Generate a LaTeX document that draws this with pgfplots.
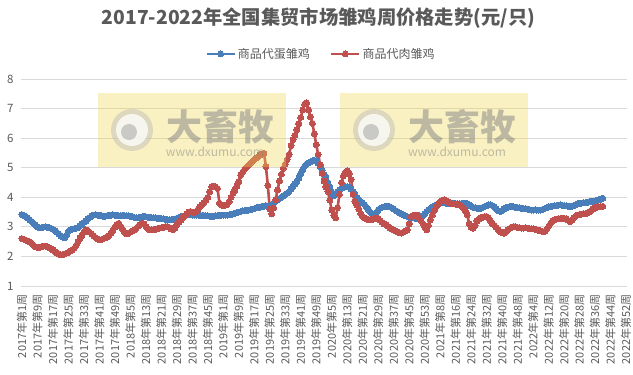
\documentclass[border=0pt]{standalone}
\usepackage{fontspec}
\setmainfont{Noto Sans CJK SC}
\usepackage{pgfplots}
\pgfplotsset{compat=1.18}
\usepackage{pgfplotstable}
\definecolor{egg}{RGB}{74,126,187}
\definecolor{meat}{RGB}{192,80,77}
\definecolor{txt}{RGB}{89,89,89}
\definecolor{gridc}{RGB}{217,217,217}
\definecolor{wmy}{RGB}{240,215,80}

\pgfplotstableread{
i b r
0 3.41 2.60
1 3.38 2.58
2 3.35 2.55
3 3.30 2.52
4 3.24 2.50
5 3.18 2.45
6 3.12 2.38
7 3.06 2.32
8 3.00 2.30
9 2.97 2.31
10 2.97 2.33
11 2.99 2.35
12 3.00 2.35
13 2.99 2.33
14 2.97 2.30
15 2.95 2.26
16 2.92 2.22
17 2.87 2.17
18 2.82 2.12
19 2.76 2.08
20 2.70 2.06
21 2.66 2.06
22 2.63 2.08
23 2.72 2.11
24 2.85 2.14
25 2.90 2.18
26 2.92 2.22
27 2.93 2.28
28 2.95 2.38
29 2.98 2.50
30 3.04 2.62
31 3.10 2.72
32 3.15 2.82
33 3.20 2.90
34 3.27 2.88
35 3.32 2.82
36 3.37 2.76
37 3.40 2.70
38 3.41 2.64
39 3.40 2.59
40 3.39 2.56
41 3.37 2.57
42 3.36 2.60
43 3.36 2.63
44 3.37 2.66
45 3.39 2.70
46 3.40 2.78
47 3.41 2.88
48 3.40 2.98
49 3.38 3.07
50 3.37 3.12
51 3.38 3.02
52 3.39 2.92
53 3.38 2.82
54 3.37 2.76
55 3.37 2.78
56 3.36 2.82
57 3.34 2.86
58 3.32 2.90
59 3.31 2.95
60 3.30 3.02
61 3.32 3.08
62 3.34 3.12
63 3.35 3.10
64 3.34 3.02
65 3.33 2.94
66 3.32 2.90
67 3.31 2.90
68 3.30 2.91
69 3.30 2.92
70 3.29 2.94
71 3.29 2.96
72 3.28 2.97
73 3.27 2.98
74 3.26 3.00
75 3.25 3.01
76 3.24 2.98
77 3.24 2.93
78 3.24 2.90
79 3.26 2.96
80 3.29 3.07
81 3.32 3.16
82 3.34 3.22
83 3.36 3.30
84 3.38 3.38
85 3.40 3.44
86 3.41 3.50
87 3.41 3.52
88 3.40 3.50
89 3.40 3.48
90 3.40 3.52
91 3.40 3.60
92 3.39 3.69
93 3.38 3.75
94 3.38 3.82
95 3.37 3.90
96 3.37 4.00
97 3.36 4.18
98 3.36 4.36
99 3.36 4.38
100 3.37 4.35
101 3.38 4.30
102 3.39 3.80
103 3.40 3.74
104 3.40 3.72
105 3.40 3.73
106 3.40 3.76
107 3.41 3.85
108 3.42 4.00
109 3.44 4.14
110 3.46 4.25
111 3.48 4.38
112 3.50 4.52
113 3.52 4.75
114 3.54 4.85
115 3.55 4.95
116 3.56 5.02
117 3.57 5.08
118 3.58 5.15
119 3.60 5.22
120 3.62 5.28
121 3.64 5.33
122 3.66 5.38
123 3.67 5.43
124 3.69 5.46
125 3.70 5.49
126 3.72 5.04
127 3.70 4.40
128 3.72 3.60
129 3.75 3.44
130 3.80 3.65
131 3.86 3.91
132 3.91 4.25
133 3.96 4.55
134 4.00 4.78
135 4.05 4.98
136 4.10 5.12
137 4.14 5.28
138 4.20 5.45
139 4.28 5.75
140 4.36 5.95
141 4.45 6.10
142 4.53 6.28
143 4.65 6.48
144 4.80 6.70
145 4.93 6.95
146 5.05 7.15
147 5.12 7.20
148 5.17 6.95
149 5.20 6.72
150 5.23 6.50
151 5.25 6.15
152 5.24 5.78
153 5.15 5.45
154 5.03 5.10
155 4.90 4.81
156 4.77 4.55
157 4.65 4.35
158 4.50 4.20
159 4.35 3.90
160 4.18 3.57
161 4.05 3.40
162 4.10 3.30
163 4.19 3.65
164 4.25 4.10
165 4.30 4.50
166 4.33 4.72
167 4.35 4.85
168 4.36 4.90
169 4.35 4.80
170 4.28 4.60
171 4.18 4.10
172 4.08 3.85
173 3.98 3.74
174 3.91 3.60
175 3.86 3.45
176 3.81 3.35
177 3.75 3.30
178 3.66 3.26
179 3.57 3.25
180 3.49 3.24
181 3.43 3.25
182 3.40 3.27
183 3.48 3.29
184 3.57 3.29
185 3.63 3.22
186 3.66 3.15
187 3.68 3.10
188 3.69 3.07
189 3.69 3.02
190 3.68 2.96
191 3.65 2.92
192 3.60 2.90
193 3.55 2.86
194 3.52 2.82
195 3.48 2.80
196 3.44 2.79
197 3.40 2.82
198 3.37 2.86
199 3.35 2.90
200 3.33 3.10
201 3.32 3.35
202 3.30 3.38
203 3.29 3.40
204 3.29 3.40
205 3.30 3.32
206 3.33 3.22
207 3.38 3.12
208 3.45 3.00
209 3.52 2.90
210 3.58 3.05
211 3.63 3.24
212 3.67 3.40
213 3.71 3.55
214 3.75 3.69
215 3.78 3.78
216 3.80 3.85
217 3.81 3.89
218 3.81 3.91
219 3.80 3.88
220 3.80 3.84
221 3.80 3.80
222 3.80 3.79
223 3.80 3.78
224 3.79 3.77
225 3.78 3.76
226 3.78 3.74
227 3.79 3.70
228 3.80 3.64
229 3.80 3.55
230 3.78 3.40
231 3.74 3.10
232 3.70 2.98
233 3.66 2.95
234 3.64 3.05
235 3.63 3.20
236 3.62 3.26
237 3.63 3.30
238 3.66 3.33
239 3.69 3.35
240 3.72 3.35
241 3.74 3.30
242 3.74 3.20
243 3.72 3.10
244 3.67 3.05
245 3.60 2.98
246 3.55 2.90
247 3.52 2.84
248 3.55 2.80
249 3.60 2.79
250 3.64 2.84
251 3.67 2.90
252 3.69 2.95
253 3.69 2.99
254 3.68 3.01
255 3.66 3.00
256 3.65 2.98
257 3.64 2.97
258 3.63 2.96
259 3.62 2.96
260 3.61 2.97
261 3.60 2.96
262 3.58 2.94
263 3.57 2.93
264 3.57 2.93
265 3.58 2.92
266 3.57 2.90
267 3.57 2.88
268 3.57 2.86
269 3.59 2.84
270 3.62 2.85
271 3.65 2.92
272 3.68 3.02
273 3.69 3.12
274 3.70 3.20
275 3.71 3.24
276 3.72 3.26
277 3.73 3.27
278 3.74 3.28
279 3.73 3.29
280 3.72 3.29
281 3.71 3.27
282 3.70 3.22
283 3.69 3.18
284 3.70 3.22
285 3.72 3.30
286 3.75 3.36
287 3.78 3.40
288 3.80 3.42
289 3.80 3.43
290 3.81 3.44
291 3.82 3.45
292 3.83 3.46
293 3.85 3.50
294 3.86 3.55
295 3.87 3.61
296 3.88 3.65
297 3.90 3.67
298 3.92 3.68
299 3.94 3.68
300 3.97 3.69
}\data

\begin{document}
\begin{tikzpicture}[x=1pt,y=1pt]
\path[use as bounding box] (0,0) rectangle (633,375);
\node[font=\bfseries\fontsize{19.3}{21}\selectfont, text=txt] at (318.5,357) {2017-2022年全国集贸市场雏鸡周价格走势(元/只)};
\begin{axis}[
  at={(21pt,89pt)}, anchor=south west, scale only axis,
  width=606pt, height=207pt,
  xmin=-0.5, xmax=312.5, ymin=1, ymax=8,
  axis line style={draw=none},
  ymajorgrids, grid style={gridc, line width=0.8pt},
  ytick={1,2,3,4,5,6,7,8},
  xtick={0,8,...,312},
  xticklabels={2017年第1周,2017年第9周,2017年第17周,2017年第25周,2017年第33周,2017年第41周,2017年第49周,2018年第5周,2018年第13周,2018年第21周,2018年第29周,2018年第37周,2018年第45周,2019年第1周,2019年第9周,2019年第17周,2019年第25周,2019年第33周,2019年第41周,2019年第49周,2020年第5周,2020年第13周,2020年第21周,2020年第29周,2020年第37周,2020年第45周,2020年第53周,2021年第8周,2021年第16周,2021年第24周,2021年第32周,2021年第40周,2021年第48周,2022年第4周,2022年第12周,2022年第20周,2022年第28周,2022年第36周,2022年第44周,2022年第52周},
  major tick length=0pt,
  tick label style={text=txt},
  yticklabel style={font=\fontsize{11.5}{12}\selectfont},
  yticklabel shift=4pt,
  xticklabel style={font=\fontsize{11}{11}\selectfont, rotate=90, anchor=east},
  xticklabel shift=5pt,
  /pgf/number format/assume math mode=true,
  legend columns=2,
  legend style={at={(0.495,1.121)}, anchor=center, draw=none, fill=none,
    font=\fontsize{12}{14}\selectfont, text=txt,
    /tikz/every even column/.append style={column sep=18pt}},
  legend image code/.code={\draw[#1,mark repeat=2,mark phase=2] plot coordinates {(0pt,0pt)(14pt,0pt)(28pt,0pt)};},
]
\addplot[egg, line width=2.6pt, mark=*, mark size=3pt, mark options={solid, fill=egg, draw=egg, line width=0pt}] table[x=i,y=b]{\data};
\addlegendentry{商品代蛋雏鸡}
\addplot[meat, line width=2.6pt, mark=*, mark size=3pt, mark options={solid, fill=meat, draw=meat, line width=0pt}] table[x=i,y=r]{\data};
\addlegendentry{商品代肉雏鸡}
\end{axis}
\foreach \dx in {0,242} {
  \fill[wmy, opacity=0.35] (98+\dx,208) rectangle (286+\dx,282);
  \fill[gray!55, opacity=0.45] (132+\dx,245) circle (21);
  \fill[white, opacity=0.75] (132+\dx,245) circle (16);
  \fill[gray!75, opacity=0.5] (129+\dx,243) circle (8);
  \node[text=gray, opacity=0.5, font=\bfseries\fontsize{36}{36}\selectfont] at (220+\dx,248) {大畜牧};
  \node[text=gray, opacity=0.5, font=\fontsize{12}{12}\selectfont] at (215+\dx,223) {www.dxumu.com};
}
\end{tikzpicture}
\end{document}
